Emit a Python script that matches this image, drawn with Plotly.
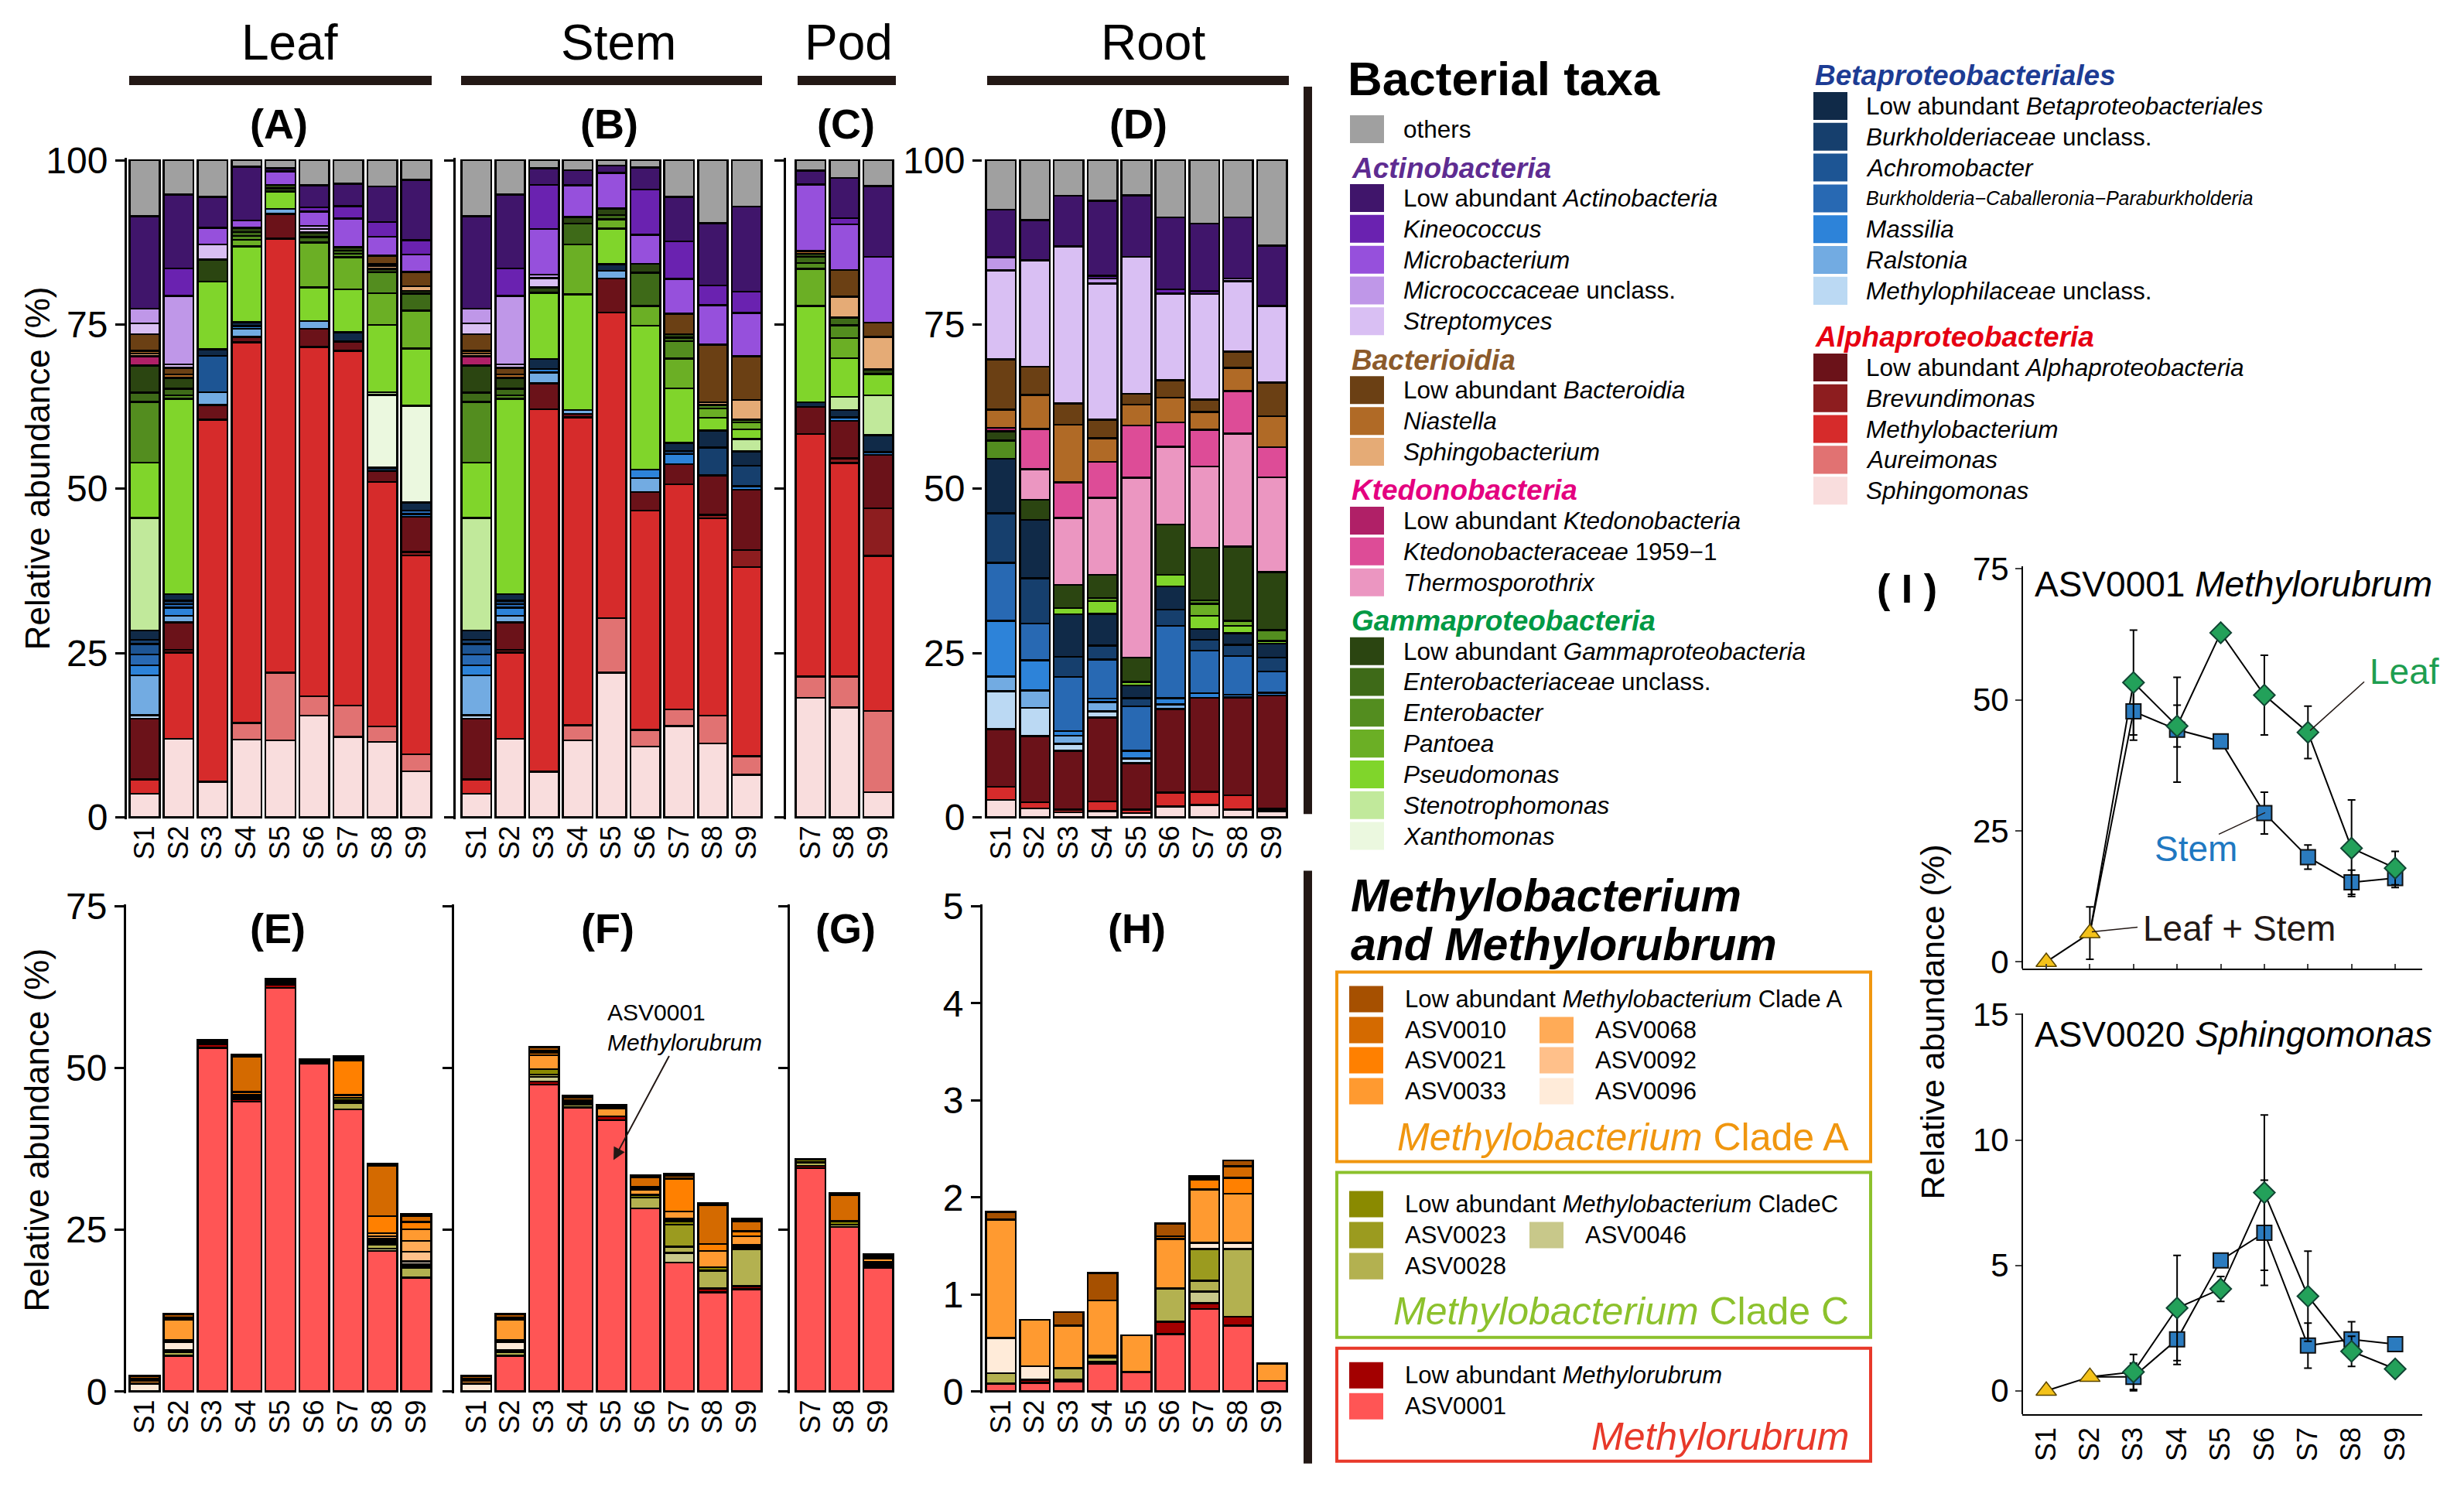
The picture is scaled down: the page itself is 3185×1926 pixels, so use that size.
import plotly.graph_objects as go

W, H = 3185, 1926
FONT = "Arial, Liberation Sans, Helvetica, sans-serif"
INK = "#231815"

samples = ["S1", "S2", "S3", "S4", "S5", "S6", "S7", "S8", "S9"]
pod_samples = ["S7", "S8", "S9"]

# stacking order of the genus bars, bottom -> top
taxa = ["Sphingomonas", "Aureimonas", "Methylobacterium", "Brevundimonas", "LowAlpha",
        "Methylophilaceae", "Ralstonia", "Massilia", "BCP", "Achromobacter", "Burkholderiaceae", "LowBeta",
        "Xanthomonas", "Stenotrophomonas", "Pseudomonas", "Pantoea", "Enterobacter", "Enterobacteriaceae", "LowGamma",
        "Thermosporothrix", "Ktedono1959", "LowKtedono",
        "Sphingobacterium", "Niastella", "LowBacteroidia",
        "Streptomyces", "Micrococcaceae", "Microbacterium", "Kineococcus", "LowActino",
        "others"]

taxa_colors = {
    "others": "#A0A0A0",
    "LowActino": "#40156B", "Kineococcus": "#6A22B0", "Microbacterium": "#9650DC",
    "Micrococcaceae": "#BF97E8", "Streptomyces": "#D9BFF3",
    "LowBacteroidia": "#6B4014", "Niastella": "#B06A26", "Sphingobacterium": "#E5AB76",
    "LowKtedono": "#B02067", "Ktedono1959": "#DD4C97", "Thermosporothrix": "#EB96C1",
    "LowGamma": "#2B4511", "Enterobacteriaceae": "#3E6A18", "Enterobacter": "#538D1F",
    "Pantoea": "#6BAF25", "Pseudomonas": "#80D52B", "Stenotrophomonas": "#C1E99B", "Xanthomonas": "#EBF8DF",
    "LowBeta": "#102A48", "Burkholderiaceae": "#163F6D", "Achromobacter": "#1D5594",
    "BCP": "#2869B3", "Massilia": "#2D83D9", "Ralstonia": "#72ABE2", "Methylophilaceae": "#BBD9F3",
    "LowAlpha": "#6B1219", "Brevundimonas": "#8D1D1F", "Methylobacterium": "#D62B2B",
    "Aureimonas": "#E17272", "Sphingomonas": "#F9DDDD",
}

taxa_labels = {
    "others": "others",
    "LowActino": "Low abundant <i>Actinobacteria</i>", "Kineococcus": "<i>Kineococcus</i>",
    "Microbacterium": "<i>Microbacterium</i>", "Micrococcaceae": "<i>Micrococcaceae</i> unclass.",
    "Streptomyces": "<i>Streptomyces</i>",
    "LowBacteroidia": "Low abundant <i>Bacteroidia</i>", "Niastella": "<i>Niastella</i>",
    "Sphingobacterium": "<i>Sphingobacterium</i>",
    "LowKtedono": "Low abundant <i>Ktedonobacteria</i>", "Ktedono1959": "<i>Ktedonobacteraceae</i> 1959−1",
    "Thermosporothrix": "<i>Thermosporothrix</i>",
    "LowGamma": "Low abundant <i>Gammaproteobacteria</i>", "Enterobacteriaceae": "<i>Enterobacteriaceae</i> unclass.",
    "Enterobacter": "<i>Enterobacter</i>", "Pantoea": "<i>Pantoea</i>", "Pseudomonas": "<i>Pseudomonas</i>",
    "Stenotrophomonas": "<i>Stenotrophomonas</i>", "Xanthomonas": "<i>Xanthomonas</i>",
    "LowBeta": "Low abundant <i>Betaproteobacteriales</i>", "Burkholderiaceae": "<i>Burkholderiaceae</i> unclass.",
    "Achromobacter": "<i>Achromobacter</i>", "BCP": "<i>Burkholderia−Caballeronia−Paraburkholderia</i>",
    "Massilia": "<i>Massilia</i>", "Ralstonia": "<i>Ralstonia</i>",
    "Methylophilaceae": "<i>Methylophilaceae</i> unclass.",
    "LowAlpha": "Low abundant <i>Alphaproteobacteria</i>", "Brevundimonas": "<i>Brevundimonas</i>",
    "Methylobacterium": "<i>Methylobacterium</i>", "Aureimonas": "<i>Aureimonas</i>",
    "Sphingomonas": "<i>Sphingomonas</i>",
}

# relative abundance (%) of genera, S1..S9
leaf = {
    "Sphingomonas": [3.5, 11.7, 5.3, 11.7, 11.5, 15.0, 12.0, 11.1, 6.8],
    "Aureimonas": [0, 0, 0, 2.5, 10.1, 2.9, 4.7, 2.3, 2.5],
    "Methylobacterium": [2.2, 12.8, 54.0, 57.3, 64.8, 51.6, 53.0, 36.0, 29.3],
    "Brevundimonas": [0, 0.4, 0, 0, 0, 0, 0, 0, 0.5],
    "LowAlpha": [9.1, 4.1, 2.2, 0.8, 3.7, 2.7, 1.4, 1.6, 5.2],
    "Methylophilaceae": [0.5, 0, 0, 0, 0, 0, 0, 0, 0],
    "Ralstonia": [6.0, 1.0, 1.9, 1.2, 0.7, 1.1, 0, 0, 0],
    "Massilia": [1.5, 1.2, 0, 0.4, 0, 0, 0, 0, 0.4],
    "BCP": [1.6, 0.5, 0, 0, 0, 0, 0, 0, 0.5],
    "Achromobacter": [1.6, 0, 5.4, 0, 0, 0, 0, 0, 0],
    "Burkholderiaceae": [0.6, 0.5, 0, 0, 0, 0, 0, 0, 0],
    "LowBeta": [1.4, 1.0, 1.0, 0.6, 0, 0, 1.4, 0.5, 1.2],
    "Xanthomonas": [0, 0, 0, 0, 0, 0, 0, 10.7, 14.3],
    "Stenotrophomonas": [16.9, 0, 0, 0, 0, 0, 0, 0.4, 0],
    "Pseudomonas": [8.3, 29.1, 10.1, 11.4, 2.6, 5.0, 6.4, 9.9, 8.4],
    "Pantoea": [0, 0, 0, 1.0, 0, 6.6, 4.8, 4.7, 5.6],
    "Enterobacter": [9.1, 0.5, 0, 0.6, 0, 0, 0.5, 3.1, 0],
    "Enterobacteriaceae": [1.4, 1.0, 0, 0.6, 0.5, 0.8, 0.5, 0, 2.5],
    "LowGamma": [4.1, 1.6, 3.3, 0.6, 0.5, 0.7, 0.5, 0.5, 0.4],
    "LowKtedono": [1.4, 0, 0, 0, 0, 0, 0, 0, 0],
    "Sphingobacterium": [0.4, 0, 0, 0, 0, 0, 0, 0.4, 0.7],
    "Niastella": [0.4, 0.5, 0, 0, 0, 0, 0, 0.3, 0],
    "LowBacteroidia": [2.5, 1.0, 0, 0, 0, 0, 0, 1.2, 2.1],
    "Streptomyces": [1.6, 0.5, 2.2, 0, 0, 0.5, 0, 0, 0],
    "Micrococcaceae": [2.2, 10.2, 0, 0, 0, 0.5, 0, 0, 0],
    "Microbacterium": [0, 0, 2.5, 1.1, 2.0, 2.1, 4.3, 2.8, 2.6],
    "Kineococcus": [0, 4.1, 0, 0, 0, 0.6, 1.8, 2.2, 2.1],
    "LowActino": [13.9, 11.0, 4.6, 8.1, 0.5, 3.3, 3.4, 5.2, 8.9],
    "others": [8.4, 5.1, 5.5, 1.0, 1.2, 3.7, 3.5, 3.9, 2.9],
}

stem = {
    "Sphingomonas": [3.5, 11.7, 6.8, 11.4, 21.3, 10.6, 13.6, 10.9, 6.2],
    "Aureimonas": [0, 0, 0, 2.2, 8.0, 2.5, 2.5, 4.1, 2.7],
    "Methylobacterium": [2.2, 12.8, 54.1, 45.6, 45.0, 33.0, 33.6, 29.1, 27.6],
    "Brevundimonas": [0, 0.4, 0, 0, 0, 0, 0, 0.5, 2.5],
    "LowAlpha": [9.1, 4.1, 3.9, 0.5, 5.0, 2.8, 3.0, 5.8, 8.8],
    "Methylophilaceae": [0.5, 0, 0, 0, 0, 0, 0, 0, 0],
    "Ralstonia": [6.0, 1.0, 1.6, 0.6, 1.1, 2.1, 0, 0, 0],
    "Massilia": [1.5, 1.2, 0.5, 0, 0, 1.3, 1.5, 0, 0.5],
    "BCP": [1.6, 0.5, 0, 0, 0, 0, 0, 0, 0],
    "Achromobacter": [1.6, 0, 0, 0, 0, 0, 0, 0, 0],
    "Burkholderiaceae": [0.6, 0.5, 0, 0, 0, 0, 0.5, 4.1, 3.0],
    "LowBeta": [1.4, 1.0, 1.5, 0, 1.0, 0, 1.2, 2.5, 2.1],
    "Stenotrophomonas": [16.9, 0, 0, 0, 0, 0, 0, 0, 1.8],
    "Pseudomonas": [8.3, 29.1, 9.9, 17.1, 5.2, 21.6, 8.1, 1.9, 1.4],
    "Pantoea": [0, 0, 0, 7.4, 1.4, 3.0, 4.5, 1.4, 1.0],
    "Enterobacter": [9.1, 0.5, 0, 0, 0, 0, 2.6, 0.5, 0.4],
    "Enterobacteriaceae": [1.4, 1.0, 0, 3.1, 0.6, 5.0, 0.5, 0, 0],
    "LowGamma": [4.1, 1.6, 0.8, 1.0, 1.0, 1.3, 0.5, 0, 0],
    "LowKtedono": [1.4, 0, 0, 0, 0, 0, 0, 0, 0],
    "Sphingobacterium": [0.4, 0, 0, 0, 0, 0, 0, 0.4, 2.9],
    "Niastella": [0.4, 0.5, 0, 0, 0, 0, 0, 0, 0],
    "LowBacteroidia": [2.5, 1.0, 0, 0, 0, 0, 3.1, 8.5, 6.4],
    "Streptomyces": [1.6, 0.5, 1.4, 0, 0, 0, 0, 0, 0],
    "Micrococcaceae": [2.2, 10.2, 0.5, 0, 0, 0, 0, 0, 0],
    "Microbacterium": [0, 0, 6.8, 4.7, 5.2, 4.4, 5.2, 5.8, 6.3],
    "Kineococcus": [0, 4.1, 6.6, 0, 0, 6.8, 5.6, 2.9, 3.1],
    "LowActino": [13.9, 11.0, 2.5, 2.2, 1.1, 3.3, 6.6, 9.2, 12.4],
    "others": [8.4, 5.1, 1.2, 1.5, 0.8, 1.1, 5.5, 9.3, 6.8],
}

# pod, S7..S9
pod = {
    "Sphingomonas": [18.0, 16.1, 3.7],
    "Aureimonas": [3.2, 4.5, 12.0],
    "Methylobacterium": [36.6, 31.3, 22.9],
    "Brevundimonas": [0, 0.7, 7.0],
    "LowAlpha": [4.1, 5.5, 7.9],
    "Massilia": [0, 0.5, 0.4],
    "LowBeta": [0.7, 1.1, 2.5],
    "Stenotrophomonas": [0, 1.9, 5.9],
    "Pseudomonas": [14.5, 5.7, 3.1],
    "Pantoea": [5.6, 2.9, 0],
    "Enterobacter": [0.9, 1.9, 0],
    "Enterobacteriaceae": [0.9, 1.1, 0],
    "LowGamma": [0.5, 0, 0.7],
    "Sphingobacterium": [0, 3.1, 4.8],
    "Niastella": [0.4, 0, 0],
    "LowBacteroidia": [0, 3.9, 2.1],
    "Microbacterium": [10.0, 6.7, 9.7],
    "Kineococcus": [0, 0.9, 0],
    "LowActino": [2.1, 5.9, 10.5],
    "others": [1.6, 2.6, 3.8],
}

root = {
    "Sphingomonas": [2.5, 1.3, 0.7, 0.9, 0.6, 1.6, 1.8, 1.1, 0.9],
    "Methylobacterium": [1.9, 0.9, 0.4, 1.4, 0.5, 2.0, 1.9, 2.1, 0.3],
    "LowAlpha": [8.4, 9.7, 8.6, 12.2, 6.9, 12.3, 13.8, 14.3, 16.5],
    "Methylophilaceae": [5.5, 4.1, 1.0, 0.9, 0.7, 0, 0, 0, 0],
    "Ralstonia": [2.1, 2.6, 1.2, 1.3, 0, 0.7, 0, 0, 0],
    "Massilia": [8.1, 4.4, 0.7, 0.5, 1.1, 0.9, 0.7, 0.4, 0.4],
    "BCP": [8.4, 5.4, 7.9, 5.7, 6.6, 10.6, 6.2, 5.7, 3.1],
    "Burkholderiaceae": [7.2, 6.6, 2.9, 2.0, 1.2, 2.4, 1.6, 1.6, 2.0],
    "LowBeta": [7.9, 8.6, 6.2, 4.6, 1.9, 3.4, 1.6, 1.7, 2.0],
    "Pseudomonas": [0, 0, 0.9, 1.9, 0.5, 1.7, 1.9, 1.1, 0.4],
    "Pantoea": [0, 0, 0, 0, 0, 0, 1.8, 0.7, 0],
    "Enterobacter": [2.6, 0, 0, 0.4, 0, 0, 0.5, 0, 1.6],
    "LowGamma": [1.4, 2.9, 3.4, 3.4, 3.6, 7.4, 7.7, 10.9, 8.4],
    "Thermosporothrix": [0, 4.5, 9.8, 11.2, 26.6, 11.4, 11.9, 16.5, 13.8],
    "Ktedono1959": [0, 5.9, 5.2, 5.2, 7.7, 3.6, 5.4, 6.2, 4.4],
    "LowKtedono": [0.5, 0, 0, 0, 0, 0, 0, 0, 0],
    "Niastella": [2.6, 5.0, 8.4, 3.4, 3.1, 3.6, 2.6, 3.4, 4.5],
    "LowBacteroidia": [7.3, 4.1, 3.1, 2.7, 1.6, 2.6, 1.8, 2.4, 4.9],
    "Streptomyces": [12.9, 15.6, 22.9, 19.8, 20.2, 12.7, 15.5, 10.3, 11.1],
    "Micrococcaceae": [1.9, 0, 0, 0.7, 0, 0, 0, 0.4, 0],
    "Kineococcus": [0, 0, 0, 0.4, 0, 0.6, 0.4, 0, 0],
    "LowActino": [6.9, 5.9, 7.4, 10.9, 9.1, 10.6, 9.9, 8.9, 8.8],
    "others": [7.2, 8.8, 5.2, 5.9, 5.2, 8.4, 9.3, 8.4, 12.4],
}

# Methylobacterium / Methylorubrum ASVs, stacking order bottom -> top
asvs = ["ASV0001", "LowMethylorubrum", "ASV0046", "ASV0028", "ASV0023", "LowCladeC",
        "ASV0096", "ASV0092", "ASV0068", "ASV0033", "ASV0021", "ASV0010", "LowCladeA"]
asv_colors = {
    "LowCladeA": "#A65000", "ASV0010": "#D46A00", "ASV0021": "#FF8000", "ASV0033": "#FF9A30",
    "ASV0068": "#FFAB57", "ASV0092": "#FFC08A", "ASV0096": "#FFEBD9",
    "LowCladeC": "#8A8A00", "ASV0023": "#9B9B1F", "ASV0028": "#B3B150", "ASV0046": "#C8C88A",
    "LowMethylorubrum": "#A30000", "ASV0001": "#FF5555",
}

leaf_asv = {
    "ASV0001": [0, 5.5, 53.1, 44.8, 62.4, 50.7, 43.6, 21.7, 17.6],
    "LowMethylorubrum": [0, 0, 0.6, 0.4, 0.5, 0.3, 0, 0, 0],
    "ASV0046": [0, 0, 0, 0, 0, 0, 0, 0.4, 0],
    "ASV0028": [0, 0.6, 0, 0.4, 0.3, 0, 1.0, 0.6, 1.5],
    "ASV0023": [0, 0, 0, 0, 0, 0, 0.4, 0, 0.3],
    "LowCladeC": [0, 0.3, 0, 0, 0, 0, 0.4, 0.3, 0.3],
    "ASV0096": [1.2, 1.2, 0, 0, 0, 0, 0, 0.3, 0.4],
    "ASV0092": [0, 0, 0, 0, 0, 0, 0, 0.3, 1.5],
    "ASV0068": [0, 0.3, 0, 0, 0, 0, 0, 0.4, 1.7],
    "ASV0033": [0.5, 3.2, 0.3, 0.3, 0.3, 0.3, 0.4, 0.5, 1.8],
    "ASV0021": [0.3, 0, 0.3, 0.4, 0, 0, 5.4, 2.6, 1.1],
    "ASV0010": [0, 0.3, 0, 5.5, 0.3, 0, 0.3, 7.8, 0.9],
    "LowCladeA": [0.4, 0.6, 0, 0.3, 0, 0, 0.3, 0.3, 0.3],
}

stem_asv = {
    "ASV0001": [0, 5.5, 47.4, 43.9, 41.9, 28.3, 19.9, 15.3, 15.8],
    "LowMethylorubrum": [0, 0, 0.5, 0, 0.6, 0, 0, 0.6, 0.5],
    "ASV0046": [0, 0, 0.7, 0, 0, 0, 1.5, 0, 0],
    "ASV0028": [0, 0.6, 0.4, 0.5, 0, 1.7, 1.0, 2.8, 5.7],
    "ASV0023": [0, 0, 0, 0, 0, 0, 3.4, 0, 0.3],
    "LowCladeC": [0, 0.3, 0.8, 0, 0, 0.4, 0.5, 0.5, 0.3],
    "ASV0096": [1.2, 1.2, 0, 0, 0, 0, 0.4, 0, 0],
    "ASV0068": [0, 0.3, 0, 0, 0, 0, 0, 0, 0],
    "ASV0033": [0.5, 3.2, 2.2, 0.3, 1.2, 0.8, 1.1, 2.5, 1.4],
    "ASV0021": [0.3, 0, 0.4, 0.3, 0.3, 0.4, 5.1, 1.1, 0.8],
    "ASV0010": [0, 0.3, 0.3, 0.4, 0, 1.5, 0.4, 6.0, 1.5],
    "LowCladeA": [0.4, 0.6, 0.5, 0.3, 0.3, 0.3, 0.3, 0.3, 0.4],
}

pod_asv = {
    "ASV0001": [34.5, 25.4, 19.1],
    "LowMethylorubrum": [0.4, 0, 0.3],
    "ASV0028": [0.5, 0.4, 0.3],
    "LowCladeC": [0.5, 0.5, 0.3],
    "ASV0033": [0, 0, 0.5],
    "ASV0021": [0, 0, 0.3],
    "ASV0010": [0, 4.1, 0.4],
    "LowCladeA": [0, 0.3, 0],
}

root_asv = {
    "ASV0001": [0.08, 0.09, 0.10, 0.29, 0.20, 0.59, 0.85, 0.68, 0.11],
    "LowMethylorubrum": [0, 0.03, 0, 0, 0, 0.13, 0.06, 0.09, 0],
    "ASV0046": [0, 0, 0.02, 0.02, 0, 0, 0.12, 0, 0],
    "ASV0028": [0.11, 0, 0.12, 0.04, 0, 0.34, 0.11, 0.70, 0],
    "ASV0023": [0, 0, 0, 0, 0, 0, 0.33, 0, 0],
    "ASV0096": [0.36, 0.14, 0, 0.02, 0, 0, 0.06, 0.06, 0],
    "ASV0033": [1.22, 0.48, 0.44, 0.57, 0.38, 0.51, 0.55, 0.51, 0.18],
    "ASV0021": [0, 0, 0, 0, 0, 0, 0.10, 0.16, 0],
    "ASV0010": [0, 0, 0, 0, 0, 0.03, 0.02, 0.12, 0],
    "LowCladeA": [0.08, 0, 0.14, 0.28, 0, 0.13, 0.02, 0.06, 0],
}

# panel I: mean relative abundance (%) and error, Leaf+Stem for S1-S2, Leaf/Stem for S3-S9
leafstem_asv1 = [0.0, 5.5]
leafstem_asv1_err = [0, 5.0]
leaf_asv1 = [53.3, 45.0, 62.8, 50.9, 43.8, 21.7, 17.9]
leaf_asv1_err = [10.0, 4.0, 0, 7.6, 5.0, 9.2, 3.2]
stem_asv1 = [47.8, 44.3, 42.1, 28.4, 20.0, 15.2, 16.0]
stem_asv1_err = [5.5, 10.0, 1.0, 4.0, 2.3, 2.3, 1.8]
leafstem_asv20 = [0.0, 0.55]
leafstem_asv20_err = [0, 0]
leaf_asv20 = [0.75, 3.3, 4.06, 7.9, 3.77, 1.57, 0.87]
leaf_asv20_err = [0.7, 2.1, 0.5, 3.1, 1.8, 0.6, 0]
stem_asv20 = [0.55, 2.05, 5.2, 6.3, 1.8, 2.05, 1.86]
stem_asv20_err = [0.55, 1.0, 0.2, 2.1, 0.9, 0.7, 0.1]


def fx(p):
    return p / W


def fy(p):
    # page pixel (from the top) -> paper fraction, with a small vertical calibration
    return 1 - (1.026 * p - 24.7) / H


def ydomain(v0, p0, v1, p1, lo, hi):
    ppu = (p0 - p1) / (v1 - v0)
    return [fy(p0 + (v0 - lo) * ppu), fy(p0 - (hi - v0) * ppu)]


fig = go.Figure()
axes = {}


def add_panel(i, xdom, ydom, xcfg, ycfg):
    s = "" if i == 1 else str(i)
    axes["xaxis" + s] = dict(domain=[fx(xdom[0]), fx(xdom[1])], anchor="y" + s,
                             showgrid=False, zeroline=False, **xcfg)
    axes["yaxis" + s] = dict(domain=ydom, anchor="free", showgrid=False, zeroline=False, **ycfg)
    return "x" + s, "y" + s


bar_x = dict(type="category", showline=False, ticks="", tickangle=-90,
             tickfont=dict(size=36, color="black", family=FONT))


def yax(line_px, vals, labels, rng, line=True):
    return dict(range=rng, position=fx(line_px), showline=line, linecolor="black", linewidth=3,
                ticks="outside", ticklen=12, tickwidth=3, tickcolor="black", tickvals=vals,
                showticklabels=labels, tickfont=dict(size=48, color="black", family=FONT))


top_dom = ydomain(0, 1056, 100, 207, -0.3, 100.3)
bot_dom = ydomain(0, 1798, 75, 1171, -0.3, 75.3)
root_bot_dom = ydomain(0, 1798, 5, 1171, -0.02, 5.02)
ticks100 = [0, 25, 50, 75, 100]
ticks75 = [0, 25, 50, 75]

panels_top = [
    (1, leaf, samples, (165, 560), yax(162, ticks100, True, [-0.3, 100.3])),
    (2, stem, samples, (594, 987), yax(587, [0, 100], False, [-0.3, 100.3])),
    (3, pod, pod_samples, (1026, 1157), yax(1014, ticks100, False, [-0.3, 100.3])),
    (4, root, samples, (1272, 1666), yax(1269, ticks100, True, [-0.3, 100.3], line=False)),
]
for i, data, cats, xdom, ycfg in panels_top:
    n = len(cats)
    xa, ya = add_panel(i, xdom, top_dom, dict(bar_x, range=[-0.5, n - 0.5]), ycfg)
    totals = [sum(data.get(k, [0] * n)[j] for k in taxa) for j in range(n)]
    for k in taxa:
        if k not in data:
            continue
        vals = [v / t * 100 if v > 0 else None for v, t in zip(data[k], totals)]
        fig.add_trace(go.Bar(x=cats, y=vals, xaxis=xa, yaxis=ya, width=0.88,
                             marker=dict(color=taxa_colors[k], line=dict(color="black", width=2.5)),
                             showlegend=False, hoverinfo="skip"))

panels_bot = [
    (5, leaf_asv, samples, (165, 560), bot_dom, yax(161, ticks75, True, [-0.3, 75.3])),
    (6, stem_asv, samples, (594, 987), bot_dom, yax(585, ticks75, False, [-0.3, 75.3])),
    (7, pod_asv, pod_samples, (1026, 1157), bot_dom, yax(1019, ticks75, False, [-0.3, 75.3])),
    (8, root_asv, samples, (1272, 1666), root_bot_dom, yax(1268, [0, 1, 2, 3, 4, 5], True, [-0.02, 5.02])),
]
for i, data, cats, xdom, ydom, ycfg in panels_bot:
    n = len(cats)
    xa, ya = add_panel(i, xdom, ydom, dict(bar_x, range=[-0.5, n - 0.5]), ycfg)
    for k in asvs:
        if k not in data:
            continue
        vals = [v if v > 0 else None for v in data[k]]
        fig.add_trace(go.Bar(x=cats, y=vals, xaxis=xa, yaxis=ya, width=0.88,
                             marker=dict(color=asv_colors[k], line=dict(color="black", width=2.5)),
                             showlegend=False, hoverinfo="skip"))

# panel I
sample_pos = list(range(1, 10))
ix = dict(range=[0.45, 9.62], showline=True, linecolor="black", linewidth=2, tickvals=sample_pos,
          ticktext=samples, tickangle=-90, tickfont=dict(size=36, color="black", family=FONT))
iy = dict(showline=True, linecolor="black", linewidth=2, ticks="outside", ticklen=8, tickwidth=2,
          tickfont=dict(size=42, color="black", family=FONT), position=fx(2614))
xa9, ya9 = add_panel(9, (2614, 3131), ydomain(0, 1243, 75, 735, -1.2, 75.5),
                     dict(ix, showticklabels=False, ticks="inside", ticklen=6, tickwidth=2),
                     dict(iy, range=[-1.2, 75.5], tickvals=ticks75))
xa10, ya10 = add_panel(10, (2614, 3131), ydomain(0, 1797, 15, 1311, -0.95, 15.05),
                       dict(ix, showticklabels=True, ticks=""),
                       dict(iy, range=[-0.95, 15.05], tickvals=[0, 5, 10, 15]))

GREEN, BLUE, YELLOW = "#23A15A", "#2B7BBF", "#F4C21A"
for xa, ya, ls, ls_err, lf, lf_err, st, st_err in [
        (xa9, ya9, leafstem_asv1, leafstem_asv1_err, leaf_asv1, leaf_asv1_err, stem_asv1, stem_asv1_err),
        (xa10, ya10, leafstem_asv20, leafstem_asv20_err, leaf_asv20, leaf_asv20_err, stem_asv20, stem_asv20_err)]:
    later = sample_pos[2:]
    for series in (st, lf):
        fig.add_trace(go.Scatter(x=[sample_pos[1]] + later, y=[ls[1]] + series, mode="lines",
                                 line=dict(color="black", width=2), xaxis=xa, yaxis=ya,
                                 showlegend=False, hoverinfo="skip"))
    fig.add_trace(go.Scatter(x=sample_pos[:2], y=ls, mode="lines", line=dict(color="black", width=2),
                             xaxis=xa, yaxis=ya, showlegend=False, hoverinfo="skip"))
    fig.add_trace(go.Scatter(x=later, y=st, mode="markers", xaxis=xa, yaxis=ya,
                             error_y=dict(type="data", array=st_err, color="black", thickness=2, width=5),
                             marker=dict(symbol="square", size=19, color=BLUE, line=dict(color="#111", width=2)),
                             showlegend=False, hoverinfo="skip"))
    fig.add_trace(go.Scatter(x=later, y=lf, mode="markers", xaxis=xa, yaxis=ya,
                             error_y=dict(type="data", array=lf_err, color="black", thickness=2, width=5),
                             marker=dict(symbol="diamond", size=21, color=GREEN, line=dict(color="#143", width=2)),
                             showlegend=False, hoverinfo="skip"))
    fig.add_trace(go.Scatter(x=sample_pos[:2], y=ls, mode="markers", xaxis=xa, yaxis=ya,
                             error_y=dict(type="data", array=ls_err, color="black", thickness=2, width=5),
                             marker=dict(symbol="triangle-up", size=23, color=YELLOW, line=dict(color="#5a4500", width=1.5)),
                             showlegend=False, hoverinfo="skip"))

shapes = []
ann = []


def text(x, y, s, size, color="black", anchor="center", angle=0, bold=False):
    if bold:
        s = "<b>" + s + "</b>"
    ann.append(dict(x=fx(x), y=fy(y), xref="paper", yref="paper", text=s, showarrow=False,
                    xanchor=anchor, yanchor="middle", textangle=angle,
                    font=dict(size=size, color=color, family=FONT)))


def rect(x0, y0, x1, y1, fill=None, line=None, lw=0):
    shapes.append(dict(type="rect", xref="paper", yref="paper", x0=fx(x0), x1=fx(x1), y0=fy(y1), y1=fy(y0),
                       fillcolor=fill if fill else "rgba(0,0,0,0)",
                       line=dict(color=line if line else "rgba(0,0,0,0)", width=lw)))


def seg(x0, y0, x1, y1, color=INK, lw=1.5):
    shapes.append(dict(type="line", xref="paper", yref="paper", x0=fx(x0), x1=fx(x1), y0=fy(y0), y1=fy(y1),
                       line=dict(color=color, width=lw)))


# tissue headers
for name, cx, x0, x1 in [("Leaf", 374, 167, 558), ("Stem", 800, 596, 985),
                         ("Pod", 1097, 1031, 1158), ("Root", 1490, 1276, 1666)]:
    text(cx, 55, name, 64)
    rect(x0, 98, x1, 110, fill=INK)

for lab, cx, cy in [("(A)", 360, 160), ("(B)", 787, 160), ("(C)", 1093, 160), ("(D)", 1471, 160),
                    ("(E)", 359, 1200), ("(F)", 785, 1200), ("(G)", 1093, 1200), ("(H)", 1469, 1200)]:
    text(cx, cy, lab, 54, bold=True)

text(48, 605, "Relative abundance (%)", 44, angle=-90)
text(48, 1460, "Relative abundance (%)", 44, angle=-90)

# separators
rect(1685, 112, 1696, 1052, fill=INK)
rect(1685, 1125, 1696, 1891, fill=INK)

# arrow in panel F
ann.append(dict(x=fx(793), y=fy(1499), xref="paper", yref="paper", ax=92, ay=-172,
                text="ASV0001<br><i>Methylorubrum</i>", align="left", showarrow=True,
                arrowhead=2, arrowsize=1.6, arrowwidth=2, arrowcolor=INK,
                font=dict(size=30, color="black", family=FONT)))

# bacterial taxa legend
text(1740, 102, "Bacterial taxa", 62, anchor="left", bold=True)
legend_cols = [
    (1745, 1812, 167, 50, [(None, None, ["others"]),
                           ("Actinobacteria", "#5E2C91", ["LowActino", "Kineococcus", "Microbacterium", "Micrococcaceae", "Streptomyces"]),
                           ("Bacterioidia", "#8B5A2B", ["LowBacteroidia", "Niastella", "Sphingobacterium"]),
                           ("Ktedonobacteria", "#E4007F", ["LowKtedono", "Ktedono1959", "Thermosporothrix"]),
                           ("Gammaproteobacteria", "#009944", ["LowGamma", "Enterobacteriaceae", "Enterobacter", "Pantoea",
                                                               "Pseudomonas", "Stenotrophomonas", "Xanthomonas"])]),
    (2344, 2410, 98, 60, [("Betaproteobacteriales", "#1D3C94", ["LowBeta", "Burkholderiaceae", "Achromobacter", "BCP",
                                                                 "Massilia", "Ralstonia", "Methylophilaceae"]),
                          ("Alphaproteobacteria", "#E60012", ["LowAlpha", "Brevundimonas", "Methylobacterium",
                                                               "Aureimonas", "Sphingomonas"])]),
]
for sx, tx, y, gap, groups in legend_cols:
    first = True
    for head, hcol, keys in groups:
        if head:
            y = y + (0 if first else gap)
            text(sx, y, "<i>" + head + "</i>", 37, color=hcol, anchor="left", bold=True)
            y += 39
        first = False
        for k in keys:
            rect(sx, y - 18, sx + 44, y + 18, fill=taxa_colors[k])
            size = 25 if k == "BCP" else 31.5
            text(tx, y, taxa_labels[k], size, anchor="left")
            y += 39.8
        y -= 39.8

# Methylobacterium legend
text(1744, 1158, "<i>Methylobacterium</i>", 59, anchor="left", bold=True)
text(1744, 1221, "<i>and Methylorubrum</i>", 59, anchor="left", bold=True)
boxes = [("#F0960F", 1256, 1501, "<i>Methylobacterium</i> Clade A", 1469,
          [("LowCladeA", "Low abundant <i>Methylobacterium</i> Clade A", 1744, 1814, 1291),
           ("ASV0010", "ASV0010", 1744, 1814, 1331), ("ASV0021", "ASV0021", 1744, 1814, 1370),
           ("ASV0033", "ASV0033", 1744, 1814, 1410), ("ASV0068", "ASV0068", 1990, 2060, 1331),
           ("ASV0092", "ASV0092", 1990, 2060, 1370), ("ASV0096", "ASV0096", 1990, 2060, 1410)]),
         ("#8CC12C", 1515, 1728, "<i>Methylobacterium</i> Clade C", 1694,
          [("LowCladeC", "Low abundant <i>Methylobacterium</i> CladeC", 1744, 1814, 1556),
           ("ASV0023", "ASV0023", 1744, 1814, 1596), ("ASV0028", "ASV0028", 1744, 1814, 1636),
           ("ASV0046", "ASV0046", 1977, 2047, 1596)]),
         ("#E8392A", 1742, 1888, "<i>Methylorubrum</i>", 1856,
          [("LowMethylorubrum", "Low abundant <i>Methylorubrum</i>", 1744, 1814, 1777),
           ("ASV0001", "ASV0001", 1744, 1814, 1817)])]
for col, y0, y1, label, ly, items in boxes:
    rect(1728, y0, 2418, y1, line=col, lw=4)
    text(2392, ly, label, 50, color=col, anchor="right")
    for k, lab, sx, tx, y in items:
        rect(sx, y - 17, sx + 44, y + 17, fill=asv_colors[k])
        text(tx, y, lab, 31, anchor="left")

# panel I texts
text(2465, 761, "<b>( I )</b>", 52)
text(2498, 1321, "Relative abundance (%)", 43, angle=-90)
text(2628, 755, "ASV0001 <i>Methylorubrum</i>", 46, anchor="left")
text(2628, 1337, "ASV0020 <i>Sphingomonas</i>", 46, anchor="left")
text(3108, 868, "Leaf", 46, color="#1E9E50")
text(2838, 1097, "Stem", 46, color="#1F78C1")
text(2894, 1200, "Leaf + Stem", 46, color=INK)
seg(3056, 881, 2986, 944)
seg(2868, 1078, 2928, 1050)
seg(2763, 1198, 2704, 1204)

fig.update_layout(width=W, height=H, margin=dict(l=0, r=0, t=0, b=0), barmode="stack",
                  plot_bgcolor="white", paper_bgcolor="white", showlegend=False,
                  font=dict(family=FONT, color="black"), shapes=shapes, annotations=ann, **axes)

fig.write_html("out.html", config={"displayModeBar": False},
               post_script="document.body.style.margin='0';")
